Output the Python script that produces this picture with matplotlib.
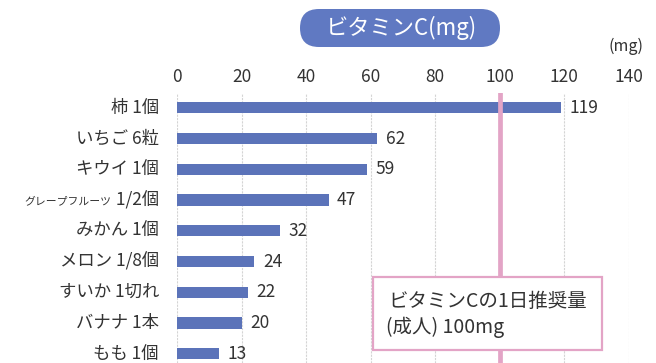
import matplotlib
matplotlib.use('Agg')
import matplotlib.pyplot as plt
from matplotlib.patches import FancyBboxPatch, Rectangle

plt.rcParams['font.family'] = ['Noto Sans CJK JP', 'DejaVu Sans']

# data
foods = ['柿 1個', 'いちご 6粒', 'キウイ 1個', 'グレープフルーツ 1/2個', 'みかん 1個',
         'メロン 1/8個', 'すいか 1切れ', 'バナナ 1本', 'もも 1個']
vitamin_c = [119, 62, 59, 47, 32, 24, 22, 20, 13]
x_ticks = [0, 20, 40, 60, 80, 100, 120, 140]
recommended = 100

bar_color = '#5b73b9'
pink = '#e3a4c6'
text_color = '#333333'
W, H = 656, 363

fig = plt.figure(figsize=(W / 100, H / 100), dpi=100)
# axes placed in pixel terms: left 177, right 629, top 93, bottom 363
ax = fig.add_axes([177 / W, 0, (629 - 177) / W, (363 - 93) / H])

ypos = list(range(len(foods)))
ax.barh(ypos, vitamin_c, height=0.37, color=bar_color, zorder=3)
ax.set_xlim(0, 140)
ax.set_ylim(8.3, -0.48)

for x in x_ticks:
    ax.axvline(x, color='#d4d4d4', lw=0.8, ls=(0, (2, 1)), zorder=1)
ax.axvline(recommended, color=pink, lw=3.4, zorder=4)

ax.xaxis.tick_top()
ax.set_xticks(x_ticks)
ax.set_xticklabels([str(v) for v in x_ticks], fontsize=12.5, color=text_color)
ax.tick_params(axis='x', length=0, pad=5)
ax.set_yticks([])
for s in ax.spines.values():
    s.set_visible(False)

# value labels
for y, v in zip(ypos, vitamin_c):
    ax.annotate(str(v), xy=(v, y), xytext=(6, 0), textcoords='offset points',
                ha='left', va='center', fontsize=12.5, color=text_color)

# category labels (grapefruit name is set smaller, like the condensed original)
trans = ax.get_yaxis_transform()
for y, name in zip(ypos, foods):
    if name.startswith('グレープフルーツ'):
        t = ax.annotate(' 1/2個', xy=(0, y), xytext=(-13, 0), textcoords='offset points',
                        xycoords=trans, ha='right', va='center', fontsize=12.5,
                        color=text_color, annotation_clip=False)
        ax.annotate('グレープフルーツ', xy=(0, 0.45), xycoords=t, ha='right', va='center',
                    fontsize=7.8, color=text_color, annotation_clip=False)
    else:
        ax.annotate(name, xy=(0, y), xytext=(-13, 0), textcoords='offset points',
                    xycoords=trans, ha='right', va='center', fontsize=12.5,
                    color=text_color, annotation_clip=False)

# overlay in pixel coordinates for title pill, unit and note box
ov = fig.add_axes([0, 0, 1, 1])
ov.set_xlim(0, W)
ov.set_ylim(H, 0)
ov.axis('off')

pill = FancyBboxPatch((300, 9), 200, 38,
                      boxstyle='round,pad=0,rounding_size=19',
                      fc='#6079c2', ec='none')
ov.add_patch(pill)
ov.text(401, 28, 'ビタミンC(mg)', color='white', fontsize=16, ha='center',
        va='center')
ov.text(626, 46, '(mg)', color=text_color, fontsize=11.5, ha='center', va='center')

box = Rectangle((373, 277), 229, 73, fc='white', ec=pink, lw=1.6, zorder=5)
ov.add_patch(box)
ov.text(388, 301, 'ビタミンCの1日推奨量', color=text_color, fontsize=14,
        ha='left', va='center', zorder=6)
ov.text(386, 327, '(成人) 100mg', color=text_color, fontsize=14,
        ha='left', va='center', zorder=6)

fig.savefig('out.png', dpi=100)
